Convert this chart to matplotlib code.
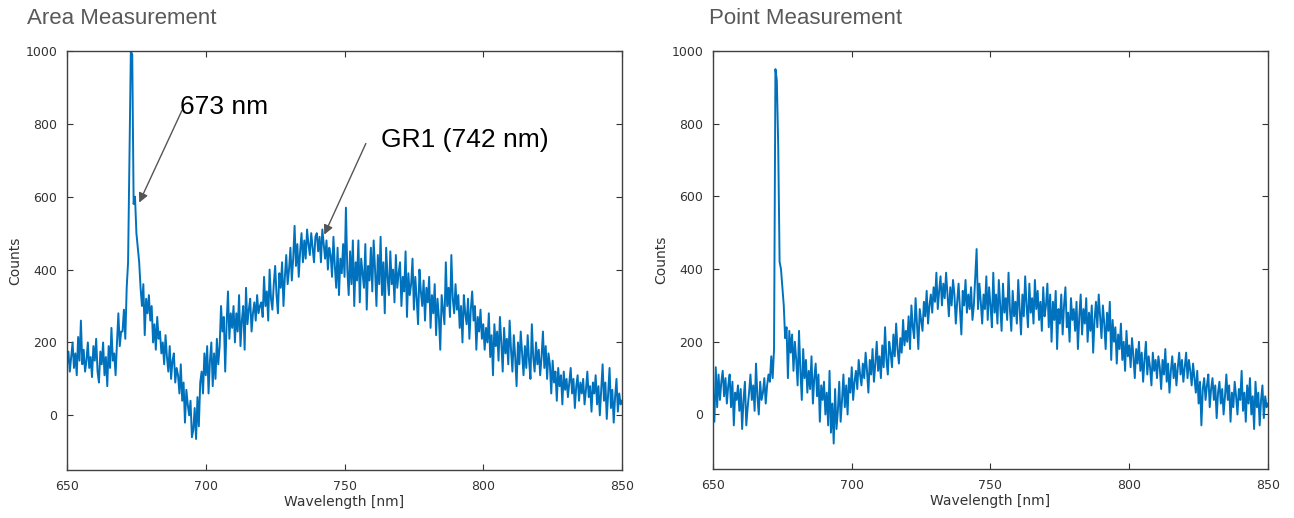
import matplotlib.pyplot as plt
import numpy as np

# wavelength grid, 0.5 nm steps from 650 to 850
wavelength = np.arange(650, 850.01, 0.5)

area_counts = [
    140, 175, 120, 160, 200, 130, 170, 110, 215, 150, 260, 140, 180, 120, 150, 200, 130, 160, 105, 190,
    150, 210, 120, 90, 175, 140, 200, 110, 160, 80, 190, 130, 240, 150, 170, 110, 200, 280, 190, 230,
    230, 290, 210, 350, 420, 700, 1000, 990, 580, 600, 500, 460, 420, 350, 300, 360, 220, 320, 280, 330,
    260, 300, 200, 250, 180, 270, 210, 230, 170, 200, 140, 220, 160, 120, 190, 100, 150, 170, 90, 130,
    110, 60, 140, 40, 90, -20, 70, 30, 0, 40, -60, -40, 20, -65, 50, -30, 90, 120, 60, 170,
    110, 190, 60, 150, 200, 80, 170, 100, 210, 140, 190, 300, 230, 270, 120, 250, 340, 210, 280, 240,
    300, 200, 280, 230, 330, 190, 260, 300, 180, 350, 250, 290, 320, 230, 280, 310, 260, 330, 280, 300,
    310, 270, 380, 300, 340, 260, 400, 320, 290, 360, 410, 330, 280, 390, 350, 420, 300, 380, 440, 360,
    400, 460, 370, 430, 520, 410, 470, 380, 450, 500, 420, 480, 430, 510, 470, 440, 500, 460, 420, 490,
    500, 450, 490, 420, 510, 470, 430, 480, 400, 460, 440, 380, 490, 410, 350, 460, 330, 430, 390, 470,
    380, 570, 400, 330, 450, 360, 480, 300, 420, 370, 480, 310, 430, 390, 350, 470, 290, 410, 370, 460,
    340, 480, 400, 300, 440, 360, 490, 330, 420, 280, 460, 380, 330, 450, 360, 400, 310, 440, 350, 390,
    420, 300, 380, 340, 450, 270, 390, 330, 360, 430, 290, 380, 320, 250, 400, 340, 300, 370, 260, 350,
    310, 380, 240, 330, 280, 360, 220, 320, 270, 180, 330, 290, 250, 420, 300, 350, 270, 440, 320, 280,
    360, 290, 330, 240, 300, 200, 330, 280, 250, 320, 210, 290, 340, 260, 300, 180, 270, 230, 290, 210,
    250, 180, 240, 200, 280, 160, 220, 110, 250, 190, 230, 150, 270, 200, 120, 240, 170, 210, 140, 260,
    180, 120, 220, 160, 80, 200, 140, 230, 170, 110, 190, 130, 220, 150, 100, 250, 160, 120, 200, 140,
    180, 110, 160, 230, 130, 190, 100, 170, 140, 60, 150, 90, 120, 40, 130, 80, 110, 30, 120, 70,
    100, 50, 90, 130, 60, 100, 20, 80, 110, 40, 90, 60, 100, 30, 70, 120, 50, 80, 10, 90,
    60, 110, 30, 80, 0, 70, 140, 40, 90, -10, 60, 130, 20, 70, -20, 50, 100, 10, 60, 30,
    40,
]

# Point measurement counts
point_counts = [
    60, -20, 130, 20, 110, 40, 90, 120, 50, 100, 30, 80, 110, 20, 90, -30, 60, 40, 80, 10,
    70, -40, 40, 90, -30, 20, 60, 110, 40, 80, 10, 140, 50, 0, 90, 40, 60, 100, 30, 80,
    110, 90, 160, 100, 180, 950, 920, 740, 420, 400, 350, 300, 210, 240, 100, 230, 170, 220, 120, 200,
    150, 80, 230, 120, 40, 180, 100, 150, 60, 120, 70, 160, 30, 100, 140, 50, 110, -20, 80, 40,
    90, 0, 60, -30, 120, -50, 30, -80, 70, -40, 10, 90, -20, 40, 110, 20, 80, 0, 100, 60,
    130, 40, 90, 120, 70, 150, 110, 80, 140, 100, 170, 120, 60, 150, 110, 180, 90, 140, 200, 120,
    160, 100, 190, 130, 240, 150, 110, 200, 170, 130, 220, 160, 250, 180, 140, 210, 170, 260, 190, 230,
    200, 270, 180, 300, 240, 210, 320, 250, 180, 290, 260, 230, 310, 270, 340, 250, 300, 330, 280, 350,
    310, 390, 290, 340, 380, 300, 360, 320, 390, 330, 270, 350, 300, 370, 330, 250, 310, 360, 290, 220,
    340, 300, 370, 280, 330, 290, 350, 260, 300, 380, 455, 290, 360, 310, 250, 330, 290, 380, 260, 350,
    300, 240, 390, 280, 330, 250, 370, 300, 230, 360, 280, 320, 260, 390, 290, 230, 340, 270, 310, 250,
    370, 290, 220, 330, 270, 380, 300, 240, 360, 280, 320, 250, 370, 290, 340, 260, 310, 230, 350, 270,
    300, 360, 240, 330, 200, 310, 260, 340, 180, 290, 250, 330, 220, 300, 350, 240, 280, 200, 320, 260,
    290, 230, 310, 180, 270, 330, 220, 290, 250, 320, 200, 280, 230, 300, 170, 260, 310, 240, 330, 270,
    210, 300, 250, 180, 280, 230, 310, 150, 260, 200, 240, 140, 220, 180, 250, 150, 200, 120, 230, 160,
    190, 130, 210, 160, 100, 180, 140, 200, 120, 170, 90, 150, 200, 110, 160, 130, 80, 170, 120, 150,
    100, 160, 130, 70, 150, 110, 180, 90, 140, 60, 120, 160, 100, 140, 80, 130, 170, 110, 150, 90,
    130, 170, 100, 150, 120, 80, 140, 100, 60, 120, 30, 90, -30, 70, 100, 40, 80, 110, 20, 70,
    100, 40, 80, -10, 60, 90, 30, 70, 0, 50, 110, 40, 80, -20, 60, 20, 90, 50, 0, 70,
    40, 120, 10, 60, -20, 80, 30, 100, 0, 50, -40, 90, 20, 60, -30, 40, 80, -10, 50, 20,
    30,
]

titles = ['Area Measurement', 'Point Measurement']
xticks = [650, 700, 750, 800, 850]
yticks = [0, 200, 400, 600, 800, 1000]

fig = plt.figure(figsize=(12.94, 5.18), dpi=100)
ax1 = fig.add_axes([0.0518, 0.0927, 0.4289, 0.8089])
ax2 = fig.add_axes([0.5510, 0.0946, 0.4289, 0.8070])

for ax, counts, title in zip([ax1, ax2], [area_counts, point_counts], titles):
    ax.plot(wavelength, counts, color='#0072BD', linewidth=1.4)
    ax.set_xlim(650, 850)
    ax.set_ylim(-150, 1000)
    ax.set_xticks(xticks)
    ax.set_yticks(yticks)
    ax.tick_params(direction='in', length=4, width=0.8, top=True, right=True,
                   labelsize=9, colors='#333333', pad=7)
    for s in ax.spines.values():
        s.set_color('#404040')
        s.set_linewidth(1.0)
    ax.set_xlabel('Wavelength [nm]', fontsize=10, color='#333333', labelpad=2)
    ax.set_ylabel('Counts', fontsize=10, color='#333333', labelpad=2)

fig.text(0.021, 0.965, titles[0], fontsize=16, color='#595959',
         family='Liberation Sans', va='center')
fig.text(0.548, 0.965, titles[1], fontsize=16, color='#595959',
         family='Liberation Sans', va='center')

# annotations on the area spectrum
ax1.annotate('', xy=(675.6, 577), xytext=(691.8, 843),
             arrowprops=dict(arrowstyle='-|>', color='#555555', lw=1.0, mutation_scale=14))
ax1.text(690.8, 846, '673 nm', fontsize=19, family='Liberation Sans', va='center', ha='left')
ax1.annotate('', xy=(742.3, 489), xytext=(758.1, 753),
             arrowprops=dict(arrowstyle='-|>', color='#555555', lw=1.0, mutation_scale=14))
ax1.text(763.2, 755, 'GR1 (742 nm)', fontsize=19, family='Liberation Sans', va='center', ha='left')

fig.savefig('out.png', dpi=100)
